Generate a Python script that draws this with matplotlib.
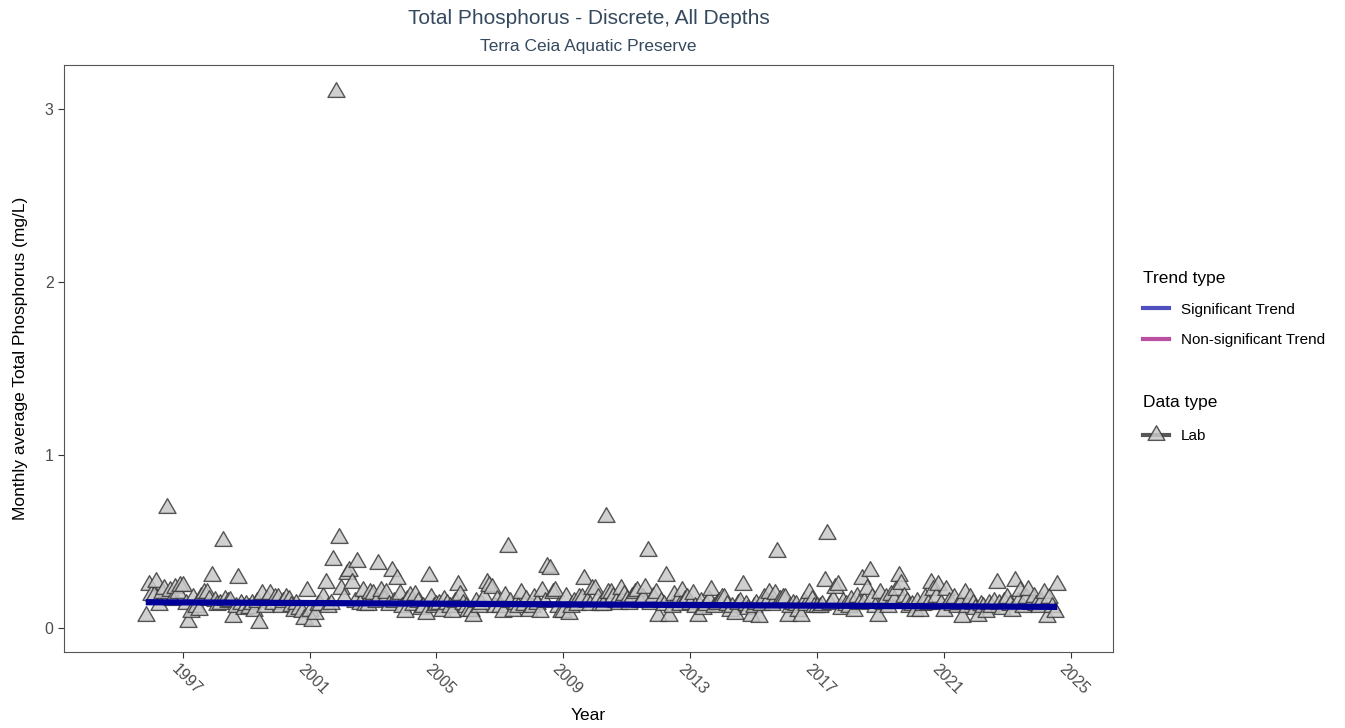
import numpy as np
import matplotlib
matplotlib.use("Agg")
import matplotlib.pyplot as plt
import matplotlib.transforms as mtransforms
from matplotlib.lines import Line2D
from matplotlib.path import Path

# monthly average total phosphorus (mg/L), one list of 12 months per year (None = no sample)
years = list(range(1995, 2025))
tp = [
    [None, None, None, None, None, None, None, None, None, None, 0.07, 0.25],                 # 1995
    [0.19, 0.185, 0.265, 0.13, 0.20, 0.225, 0.69, 0.21, 0.16, 0.23, 0.20, 0.24],              # 1996
    [0.24, 0.14, 0.035, 0.09, 0.175, 0.12, 0.105, 0.18, 0.20, 0.20, 0.16, 0.30],              # 1997
    [0.155, 0.13, 0.14, 0.50, 0.16, 0.15, 0.155, 0.06, 0.12, 0.29, 0.14, 0.11],               # 1998
    [0.13, 0.115, 0.14, 0.10, 0.15, 0.03, 0.195, 0.12, 0.16, 0.195, 0.14, 0.17],              # 1999
    [0.17, 0.12, 0.15, 0.175, 0.16, 0.125, 0.10, 0.14, 0.11, 0.09, 0.05, 0.215],              # 2000
    [0.10, 0.04, 0.08, 0.13, 0.13, 0.18, 0.26, 0.12, 0.14, 0.39, 3.10, 0.52],                 # 2001
    [0.225, 0.17, 0.31, 0.33, 0.26, 0.15, 0.38, 0.14, 0.21, 0.13, 0.13, 0.20],                # 2002
    [0.195, 0.15, 0.37, 0.215, 0.16, 0.20, 0.13, 0.33, 0.15, 0.285, 0.195, 0.12],             # 2003
    [0.09, 0.16, 0.185, 0.13, 0.19, 0.15, 0.11, 0.12, 0.08, 0.30, 0.175, 0.12],               # 2004
    [0.13, 0.135, 0.10, 0.16, 0.14, 0.12, 0.09, 0.15, 0.245, 0.19, 0.14, 0.12],               # 2005
    [0.10, 0.10, 0.07, 0.15, 0.12, 0.14, 0.18, 0.26, 0.24, 0.23, 0.12, 0.16],                 # 2006
    [0.12, 0.09, 0.185, 0.47, 0.15, 0.10, 0.14, 0.12, 0.20, 0.13, 0.16, 0.10],                # 2007
    [0.12, 0.175, 0.14, 0.09, 0.215, 0.15, 0.35, 0.34, 0.20, 0.215, 0.12, 0.09],              # 2008
    [0.09, 0.18, 0.08, 0.12, 0.15, 0.13, 0.17, 0.175, 0.28, 0.15, 0.13, 0.225],               # 2009
    [0.225, 0.17, 0.13, 0.13, 0.64, 0.20, 0.20, 0.18, 0.15, 0.14, 0.225, 0.19],               # 2010
    [0.16, 0.14, 0.18, 0.20, 0.21, 0.15, 0.17, 0.23, 0.445, 0.14, 0.18, 0.20],                # 2011
    [0.07, 0.15, 0.13, 0.30, 0.07, 0.12, 0.19, 0.15, 0.13, 0.215, 0.16, 0.17],                # 2012
    [0.14, 0.195, 0.12, 0.07, 0.15, 0.11, 0.13, 0.16, 0.22, 0.12, 0.14, 0.15],                # 2013
    [0.17, 0.17, 0.13, 0.10, 0.12, 0.08, 0.14, 0.15, 0.245, 0.13, 0.11, 0.07],                # 2014
    [0.12, 0.14, 0.06, 0.13, 0.17, 0.15, 0.20, 0.13, 0.195, 0.44, 0.16, 0.17],                # 2015
    [0.17, 0.07, 0.12, 0.14, 0.13, 0.10, 0.07, 0.15, 0.13, 0.20, 0.16, 0.12],                 # 2016
    [0.12, 0.12, 0.13, 0.27, 0.545, 0.14, 0.16, 0.23, 0.245, 0.11, 0.15, 0.13],               # 2017
    [0.12, 0.16, 0.10, 0.18, 0.14, 0.28, 0.15, 0.225, 0.33, 0.17, 0.12, 0.07],                # 2018
    [0.20, 0.14, 0.17, 0.12, 0.19, 0.16, 0.22, 0.30, 0.255, 0.18, 0.15, 0.12],                # 2019
    [0.13, 0.10, 0.15, 0.10, 0.13, 0.17, 0.14, 0.26, 0.22, 0.18, 0.245, 0.14],                # 2020
    [0.10, 0.22, 0.15, 0.13, 0.17, 0.12, 0.14, 0.06, 0.20, 0.12, 0.17, 0.14],                 # 2021
    [0.11, 0.07, 0.13, 0.12, 0.09, 0.14, 0.12, 0.15, 0.26, 0.14, 0.11, 0.15],                 # 2022
    [0.17, 0.13, 0.10, 0.27, 0.15, 0.21, 0.12, 0.17, 0.22, 0.14, 0.18, 0.13],                 # 2023
    [0.12, 0.15, 0.20, 0.06, 0.17, 0.12, 0.09, 0.25, None, None, None, None],                 # 2024
]

# significant trend line (start / end)
trend_x = [1995.83, 2024.58]
trend_y = [0.148, 0.121]

xticks = [1997, 2001, 2005, 2009, 2013, 2017, 2021, 2025]
yticks = [0, 1, 2, 3]

dates, vals = [], []
for y, row in zip(years, tp):
    for m, v in enumerate(row):
        if v is not None:
            dates.append(y + m / 12)
            vals.append(v)

TITLE_C = "#34495e"
AXIS_C = "#4d4d4d"
plt.rcParams["font.family"] = ["Liberation Sans", "DejaVu Sans"]

fig = plt.figure(figsize=(13.45, 7.28), dpi=100)
ax = fig.add_axes([64 / 1345, 76 / 728, 1049 / 1345, 587 / 728])

# equilateral triangle centred on its centroid (like R pch 24)
tri = Path([(-1, -0.577), (1, -0.577), (0, 1.155), (-1, -0.577)],
           [Path.MOVETO, Path.LINETO, Path.LINETO, Path.CLOSEPOLY])

ax.scatter(dates, vals, marker=tri, s=200, facecolor="#c8c8c8",
           edgecolor="#3a3a3a", linewidth=1.0, alpha=0.85, zorder=2)
ax.plot(trend_x, trend_y, color="#000099", lw=4.5, solid_capstyle="butt", zorder=3)

ax.set_xlim(1993.25, 2026.34)
ax.set_ylim(-0.14, 3.255)
ax.set_xticks(xticks)
ax.set_yticks(yticks)
ax.set_xticklabels([str(t) for t in xticks], rotation=-45, ha="left", va="top",
                   rotation_mode="anchor")
ax.tick_params(axis="both", colors="#333333", labelcolor=AXIS_C, labelsize=11.5,
               length=4, width=0.8)
ax.tick_params(axis="x", pad=5)
shift = mtransforms.ScaledTranslation(-4 / 100, 3 / 100, fig.dpi_scale_trans)
for lbl in ax.get_xticklabels():
    lbl.set_transform(lbl.get_transform() + shift)
for s in ax.spines.values():
    s.set_color("#555555")
    s.set_linewidth(0.8)
ax.set_xlabel("Year", fontsize=12.5, labelpad=8)
ax.set_ylabel("Monthly average Total Phosphorus (mg/L)", fontsize=12.5, labelpad=12)

fig.text(588.5 / 1345, 1 - 19 / 728, "Total Phosphorus - Discrete, All Depths",
         ha="center", va="center", fontsize=15, color=TITLE_C)
fig.text(588.5 / 1345, 1 - 46 / 728, "Terra Ceia Aquatic Preserve",
         ha="center", va="center", fontsize=12.5, color=TITLE_C)

# legends
trend_handles = [Line2D([], [], color="#4f4fc0", lw=3),
                 Line2D([], [], color="#b9509f", lw=3)]
leg1 = fig.legend(trend_handles, ["Significant Trend", "Non-significant Trend"],
                  title="Trend type", loc="upper left",
                  bbox_to_anchor=(1129 / 1345, 1 - 257 / 728), frameon=False,
                  fontsize=11, title_fontsize=12.5, handlelength=1.7,
                  handletextpad=0.8, labelspacing=1.1, alignment="left")
lab_handle = Line2D([], [], color="#3a3a3a", lw=3, marker=tri, markersize=14,
                    markerfacecolor="#c8c8c8", markeredgecolor="#3a3a3a", alpha=0.85)
leg2 = fig.legend([lab_handle], ["Lab"], title="Data type", loc="upper left",
                  bbox_to_anchor=(1129 / 1345, 1 - 381 / 728), frameon=False,
                  fontsize=11, title_fontsize=12.5, handlelength=1.7,
                  handletextpad=0.8, labelspacing=1.25, alignment="left")

fig.savefig("out.png", dpi=100)
